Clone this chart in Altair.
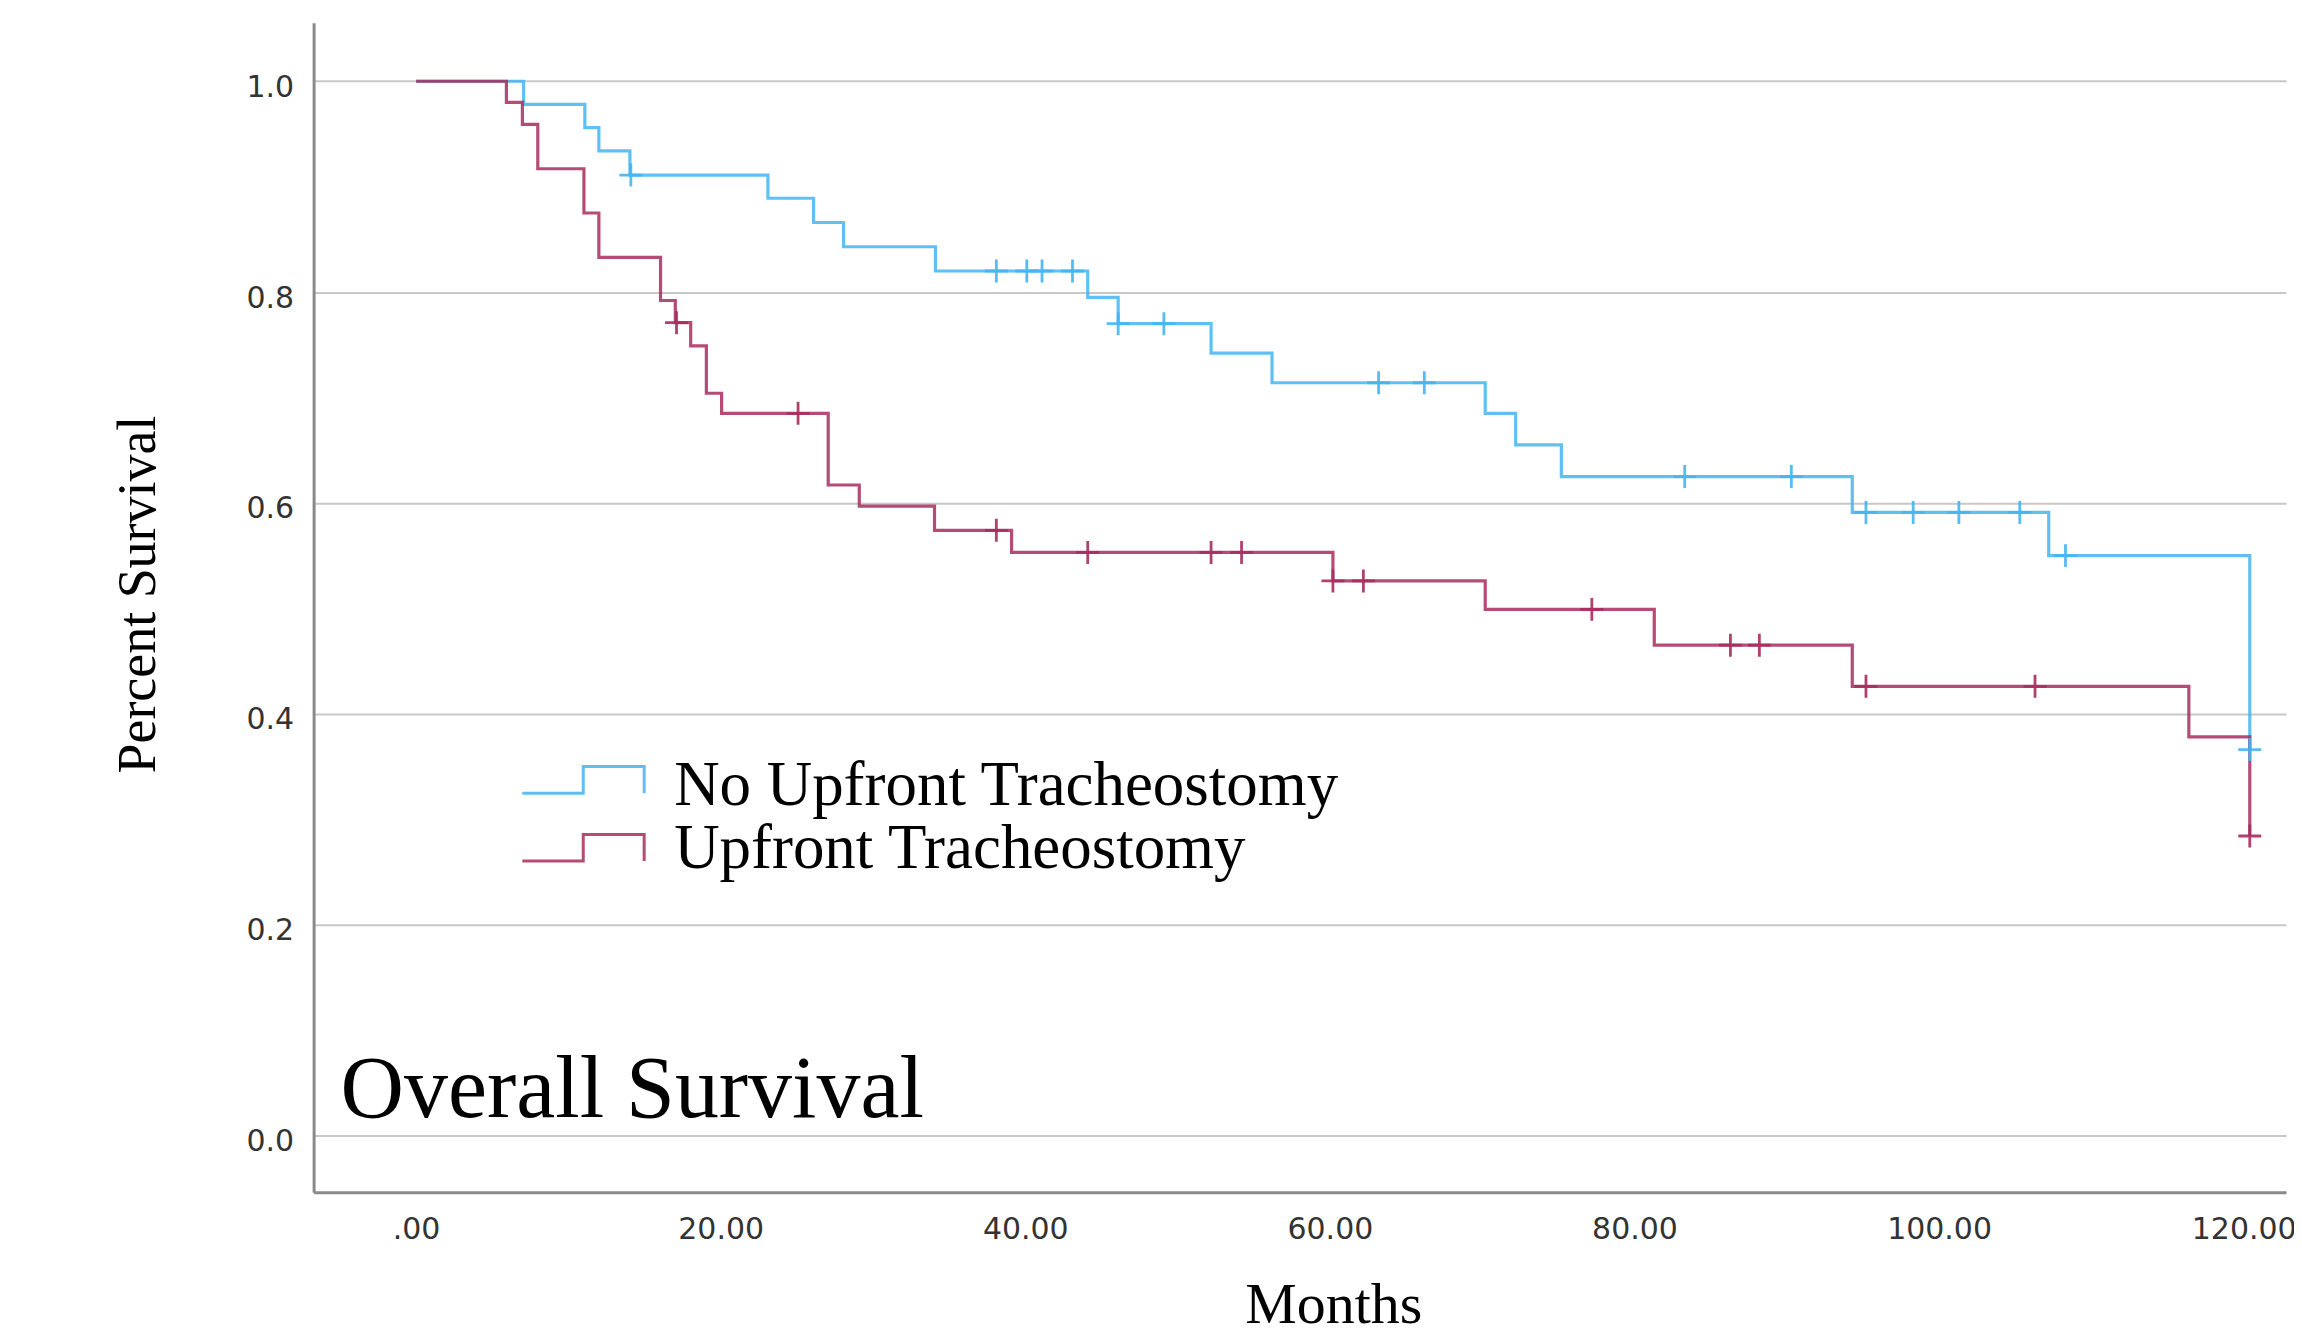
import altair as alt
import pandas as pd

# ---- data ----
groups = ["No Upfront Tracheostomy", "Upfront Tracheostomy"]
colors = ["#45b5f0", "#a82d5f"]

no_up_months = [0, 7.06, 11.08, 12.0, 14.04, 23.1, 26.1, 28.07, 34.1, 44.1, 46.1,
                52.2, 56.2, 70.2, 72.2, 75.2, 94.3, 107.2, 120.4]
no_up_surv = [1.0, 0.978, 0.956, 0.934, 0.911, 0.889, 0.866, 0.843, 0.820, 0.795, 0.770,
              0.742, 0.714, 0.685, 0.655, 0.625, 0.591, 0.550, 0.366]
no_up_cens_months = [14.1, 38.1, 40.1, 41.1, 43.1, 46.1, 49.1, 63.2, 66.2, 83.3, 90.3,
                     95.2, 98.3, 101.3, 105.3, 108.3, 120.4]
no_up_cens_surv = [0.911, 0.820, 0.820, 0.820, 0.820, 0.770, 0.770, 0.714, 0.714, 0.625, 0.625,
                   0.591, 0.591, 0.591, 0.591, 0.550, 0.366]

up_months = [0, 5.93, 6.98, 7.99, 11.02, 12.0, 16.05, 17.02, 18.03, 19.06, 20.06, 27.06,
             29.1, 34.04, 39.1, 60.2, 70.2, 81.3, 94.3, 116.4, 120.4]
up_surv = [1.0, 0.980, 0.959, 0.917, 0.875, 0.833, 0.792, 0.771, 0.749, 0.704, 0.685, 0.617,
           0.597, 0.574, 0.553, 0.526, 0.499, 0.465, 0.426, 0.378, 0.284]
up_cens_months = [17.1, 25.08, 38.1, 44.1, 52.2, 54.2, 60.2, 62.2, 77.2, 86.3, 88.2, 95.2,
                  106.3, 120.4]
up_cens_surv = [0.771, 0.685, 0.574, 0.553, 0.553, 0.553, 0.526, 0.526, 0.499, 0.465, 0.465,
                0.426, 0.426, 0.284]

x_ticks = [0, 20, 40, 60, 80, 100, 120]
x_tick_labels = [".00", "20.00", "40.00", "60.00", "80.00", "100.00", "120.00"]
y_ticks = [0.0, 0.2, 0.4, 0.6, 0.8, 1.0]
y_tick_labels = ["0.0", "0.2", "0.4", "0.6", "0.8", "1.0"]

panel_label = "Overall Survival"
x_title = "Months"
y_title = "Percent Survival"

# ---- tables ----
steps = pd.concat([
    pd.DataFrame({"group": groups[0], "month": no_up_months, "surv": no_up_surv}),
    pd.DataFrame({"group": groups[1], "month": up_months, "surv": up_surv}),
])
cens = pd.concat([
    pd.DataFrame({"group": groups[0], "month": no_up_cens_months, "surv": no_up_cens_surv}),
    pd.DataFrame({"group": groups[1], "month": up_cens_months, "surv": up_cens_surv}),
])


def label_expr(vals, labs):
    expr = "''"
    for v, lab in reversed(list(zip(vals, labs))):
        expr = f"(abs(datum.value - {v}) < 1e-6 ? '{lab}' : {expr})"
    return expr


W, H = 1975, 1171
x_scale = alt.Scale(domain=[-6.73, 122.78], nice=False, zero=False)
y_scale = alt.Scale(domain=[-0.054, 1.0554], nice=False, zero=False)
color_scale = alt.Scale(domain=groups, range=colors)

x_axis = alt.Axis(
    values=x_ticks, labelExpr=label_expr(x_ticks, x_tick_labels),
    title=x_title, titleFont="Liberation Serif", titleFontSize=58, titleFontWeight="normal",
    titleColor="black", titleX=1021, titleY=130, titleBaseline="alphabetic",
    labelFont="DejaVu Sans", labelFontSize=30, labelColor="#333333", labelPadding=22,
    ticks=False, tickSize=0, grid=False, domainColor="#8a8a8a", domainWidth=3,
    labelFlush=False, labelOverlap=False,
)
y_axis = alt.Axis(
    values=y_ticks, labelExpr=label_expr(y_ticks, y_tick_labels),
    title=y_title, titleFont="Liberation Serif", titleFontSize=54, titleFontWeight="normal",
    titleColor="black", titleX=-159, titleY=572, titleBaseline="alphabetic",
    labelFont="DejaVu Sans", labelFontSize=30, labelColor="#333333", labelPadding=20,
    labelOffset=6, ticks=False, tickSize=0, grid=True, gridColor="#c8c8c8", gridWidth=2,
    domainColor="#8a8a8a", domainWidth=3, labelFlush=False, labelOverlap=False,
)

lines = alt.Chart(steps).mark_line(
    interpolate="step-after", strokeWidth=3.2, strokeOpacity=0.85
).encode(
    x=alt.X("month:Q", scale=x_scale, axis=x_axis),
    y=alt.Y("surv:Q", scale=y_scale, axis=y_axis),
    color=alt.Color("group:N", scale=color_scale, legend=None),
)

plus_path = "M -1 0 L 1 0 M 0 -1 L 0 1"
marks = alt.Chart(cens).mark_point(
    shape=plus_path, filled=False, size=529, strokeWidth=2.8, opacity=0.9
).encode(
    x=alt.X("month:Q", scale=x_scale),
    y=alt.Y("surv:Q", scale=y_scale),
    color=alt.Color("group:N", scale=color_scale, legend=None),
)

layers = [lines, marks]

# legend drawn by hand (step-shaped keys)
legend_path = "M -1 0.219 L 0 0.219 L 0 -0.219 L 1 -0.219 L 1 0.219"
sym_y = [758, 826]
txt_y = [783, 846]
for i, g in enumerate(groups):
    d = pd.DataFrame({"group": [g]})
    layers.append(
        alt.Chart(d).mark_point(
            shape=legend_path, filled=False, size=14884, strokeWidth=3, opacity=0.85
        ).encode(
            x=alt.value(270), y=alt.value(sym_y[i]),
            color=alt.Color("group:N", scale=color_scale, legend=None),
        )
    )
    layers.append(
        alt.Chart(d).mark_text(
            align="left", baseline="alphabetic", font="Liberation Serif",
            fontSize=63, color="black"
        ).encode(x=alt.value(361), y=alt.value(txt_y[i]), text="group:N")
    )

layers.append(
    alt.Chart(pd.DataFrame({"t": [panel_label]})).mark_text(
        align="left", baseline="alphabetic", font="Liberation Serif",
        fontSize=88, color="black"
    ).encode(x=alt.value(27), y=alt.value(1096), text="t:N")
)

chart = alt.layer(*layers).properties(
    width=W, height=H,
    autosize=alt.AutoSizeParams(type="none"),
    padding={"left": 306, "top": 14, "right": 8, "bottom": 136},
    background="white",
).configure_view(strokeWidth=0)

chart.save("out.html", embed_options={"renderer": "svg", "actions": False})
